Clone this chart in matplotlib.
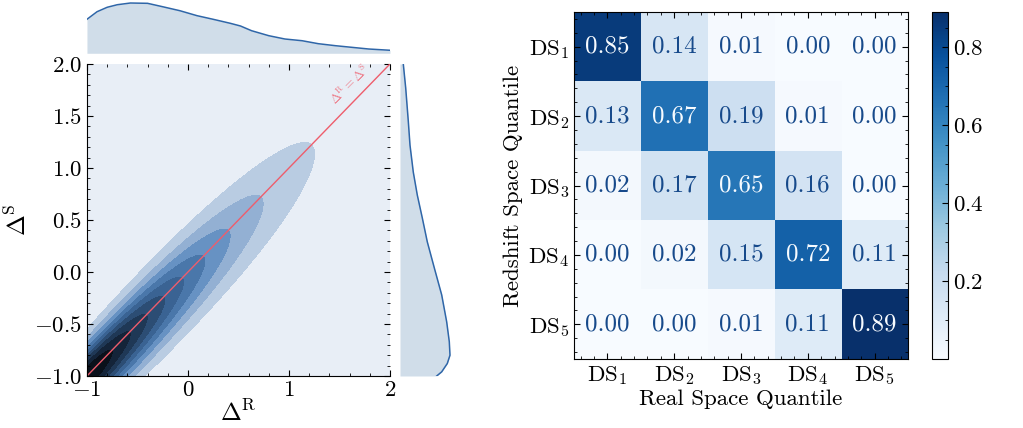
import numpy as np
import matplotlib
matplotlib.use("Agg")
import matplotlib.pyplot as plt
from matplotlib.ticker import MultipleLocator, AutoMinorLocator

plt.rcParams['font.family'] = ['cmr10', 'DejaVu Serif']
plt.rcParams['mathtext.fontset'] = 'cm'
plt.rcParams['axes.formatter.use_mathtext'] = True

# confusion matrix, rows = redshift space quantile, cols = real space quantile
labels = ['DS$_1$', 'DS$_2$', 'DS$_3$', 'DS$_4$', 'DS$_5$']
conf = np.array([
    [0.85, 0.14, 0.01, 0.00, 0.00],
    [0.13, 0.67, 0.19, 0.01, 0.00],
    [0.02, 0.17, 0.65, 0.16, 0.00],
    [0.00, 0.02, 0.15, 0.72, 0.11],
    [0.00, 0.00, 0.01, 0.11, 0.89],
])

# marginal densities (peak = 1)
top_x = [-1.0, -0.9, -0.8, -0.7, -0.57, -0.4, -0.25, -0.08, 0.09, 0.25, 0.42,
         0.52, 0.63, 0.8, 0.96, 1.13, 1.29, 1.46, 1.62, 1.79, 2.0]
top_d = [0.676, 0.827, 0.915, 0.966, 1.0, 0.994, 0.926, 0.847, 0.748, 0.676, 0.596,
         0.543, 0.449, 0.35, 0.284, 0.25, 0.191, 0.151, 0.119, 0.085, 0.06]
right_y = [2.0, 1.77, 1.45, 1.22, 0.96, 0.74, 0.52, 0.29, 0.04, -0.22, -0.48,
           -0.67, -0.8, -0.88, -0.96, -1.0]
right_d = [0.066, 0.114, 0.166, 0.2, 0.266, 0.346, 0.446, 0.546, 0.686, 0.834, 0.934,
           0.986, 1.0, 0.946, 0.834, 0.734]

# joint density: ridge along the diagonal, gaussian across it (wider below)
ridge_scale = 1.225
ridge_power = 1.4
sd_above = (0.14, 0.05)
sd_below = (0.18, 0.05)
kde_levels = [-0.01, 0.1, 0.2, 0.3, 0.4, 0.5, 0.6, 0.7, 0.8, 0.9, 1.01]
kde_colors = ['#e8eef6', '#b9cce2', '#93b0d3', '#6792c3', '#4a77aa',
              '#3a6393', '#2c4d74', '#1f3856', '#142439', '#0a111b']
lim = (-1, 2)

fig = plt.figure(figsize=(10.23, 4.28), dpi=100)

# ---- left: joint kde ----
ax = fig.add_axes([0.0850, 0.1215, 0.2962, 0.729])
ax_top = fig.add_axes([0.0850, 0.8755, 0.2962, 0.1245])
ax_right = fig.add_axes([0.391, 0.1215, 0.0521, 0.729])

g = np.linspace(lim[0], lim[1], 500)
X, Y = np.meshgrid(g, g)
t = np.clip((X + Y) / 2 + 1, 0, None)
v = (Y - X) / np.sqrt(2)
ridge = np.exp(-(t / ridge_scale) ** ridge_power)
sd = np.where(v >= 0, sd_above[0] + sd_above[1] * t, sd_below[0] + sd_below[1] * t)
dens = ridge * np.exp(-v ** 2 / (2 * sd ** 2))
ax.set_facecolor(kde_colors[0])
ax.contourf(X, Y, dens, levels=kde_levels, colors=kde_colors)

ax.plot(lim, lim, color='#ee5d6c', lw=1)
ax.text(1.6, 1.8, r'$\Delta^{\rm R} = \Delta^{\rm S}$', rotation=45, fontsize=9,
        color='#ee5d6c', alpha=0.8, ha='center', va='center')

ax.set_xlim(lim)
ax.set_ylim(lim)
ax.set_xticks([-1, 0, 1, 2])
ax.xaxis.set_minor_locator(MultipleLocator(0.2))
ax.yaxis.set_major_locator(MultipleLocator(0.5))
ax.yaxis.set_minor_locator(MultipleLocator(0.1))
ax.spines['top'].set_visible(False)
ax.spines['right'].set_visible(False)
for s in ['left', 'bottom']:
    ax.spines[s].set_linewidth(0.8)
ax.tick_params(which='both', direction='in', top=True, right=True, labelsize=16.5)
ax.tick_params(which='major', length=4.5, width=0.8)
ax.tick_params(which='minor', length=2.2, width=0.6)
ax.set_xlabel(r'$\Delta^{\rm R}$', fontsize=18, labelpad=0)
ax.set_ylabel(r'$\Delta^{\rm S}$', fontsize=18, labelpad=2)

ax_top.fill_between(top_x, top_d, color='#d0dde9', lw=0)
ax_top.plot(top_x, top_d, color='#2f66a8', lw=1.1)
ax_top.set_xlim(lim)
ax_top.set_ylim(0, 1.06)
ax_top.axis('off')

ax_right.fill_betweenx(right_y, right_d, color='#d0dde9', lw=0)
ax_right.plot(right_d, right_y, color='#2f66a8', lw=1.1)
ax_right.set_ylim(lim)
ax_right.set_xlim(0, 1.066)
ax_right.axis('off')

# ---- right: confusion matrix ----
axh = fig.add_axes([0.5611, 0.1612, 0.3265, 0.8107])
cmap = plt.get_cmap('Blues')
im = axh.imshow(conf, cmap=cmap, aspect='auto', vmin=conf.min(), vmax=conf.max())
thresh = (conf.max() + conf.min()) / 2
for i in range(conf.shape[0]):
    for j in range(conf.shape[1]):
        c = cmap(0.0) if conf[i, j] > thresh else '#174a8b'
        axh.text(j, i, f'{conf[i, j]:.2f}', ha='center', va='center', color=c, fontsize=18)

axh.set_xticks(range(len(labels)))
axh.set_xticklabels(labels)
axh.set_yticks(range(len(labels)))
axh.set_yticklabels(labels)
axh.xaxis.set_minor_locator(AutoMinorLocator(5))
axh.yaxis.set_minor_locator(AutoMinorLocator(5))
for s in axh.spines.values():
    s.set_linewidth(0.8)
axh.tick_params(which='both', direction='in', top=True, right=True, labelsize=16.5)
axh.tick_params(which='major', length=4.5, width=0.8)
axh.tick_params(which='minor', length=2.2, width=0.6)
axh.set_xlabel('Real Space Quantile', fontsize=16.5, labelpad=2)
axh.set_ylabel('Redshift Space Quantile', fontsize=16.5)

cax = fig.add_axes([0.911, 0.1612, 0.0156, 0.8107])
cb = fig.colorbar(im, cax=cax)
cb.set_ticks([0.2, 0.4, 0.6, 0.8])
cax.yaxis.set_minor_locator(MultipleLocator(0.05))
cax.tick_params(which='both', direction='in', right=True, left=False, labelsize=16.5)
cax.tick_params(which='major', length=4.5, width=0.8)
cax.tick_params(which='minor', length=2.2, width=0.6)
cb.outline.set_linewidth(0.8)

plt.savefig('out.png', dpi=100)
